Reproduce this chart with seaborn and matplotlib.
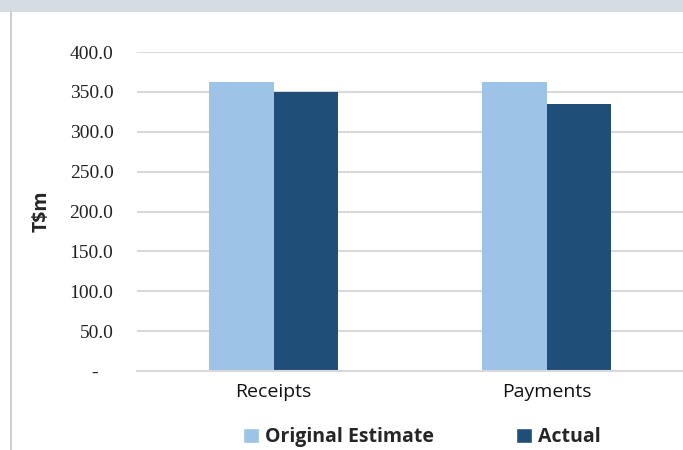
import matplotlib
matplotlib.use("Agg")
import matplotlib.pyplot as plt
import seaborn as sns
import pandas as pd
from matplotlib.patches import Rectangle
from matplotlib.lines import Line2D

categories = ["Receipts", "Payments"]
series_names = ["Original Estimate", "Actual"]
original_estimate = [363.0, 363.0]
actual = [350.4, 334.6]
ytick_values = [0, 50, 100, 150, 200, 250, 300, 350, 400]
ytick_labels = ["-   ", "50.0", "100.0", "150.0", "200.0", "250.0", "300.0", "350.0", "400.0"]
colors = ["#9DC3E6", "#1F4E79"]

df = pd.DataFrame({
    "Category": categories * 2,
    "Series": [series_names[0]] * 2 + [series_names[1]] * 2,
    "Value": original_estimate + actual,
})

sns.set_theme(style="white")
fig = plt.figure(figsize=(6.83, 4.5), dpi=100)
ax = fig.add_axes([0.2006, 0.1756, 0.7994, 0.7088])

sns.barplot(data=df, x="Category", y="Value", hue="Series", palette=colors,
            width=0.475, ax=ax, legend=False, saturation=1, errorbar=None,
            linewidth=0)

ax.set_ylim(0, 400)
ax.set_xlim(-0.5, 1.5)
ax.set_yticks(ytick_values)
ax.set_yticklabels(ytick_labels, family="Liberation Serif", fontsize=14, color="#222222")
ax.tick_params(axis="y", length=0, pad=17)
ax.tick_params(axis="x", length=0, pad=9, labelsize=14)
for lab in ax.get_xticklabels():
    lab.set_family("Open Sans")
    lab.set_color("#111111")
ax.yaxis.grid(True, color="#D9D9D9", linewidth=1.5)
ax.set_axisbelow(True)
for s in ["top", "right", "left"]:
    ax.spines[s].set_visible(False)
ax.spines["bottom"].set_color("#D9D9D9")
ax.spines["bottom"].set_linewidth(1.5)
ax.set_xlabel("")
ax.set_ylabel("T$m", fontsize=14, fontweight="bold", family="Open Sans", labelpad=13)

# top band and left border
fig.patches.append(Rectangle((0, 1 - 12 / 450), 1, 12 / 450, transform=fig.transFigure,
                             facecolor="#D6DCE4", edgecolor="none", zorder=0))
fig.lines.append(Line2D([10.5 / 683, 10.5 / 683], [0, 1 - 12 / 450], transform=fig.transFigure,
                        color="#D0D0D0", linewidth=1.5))

handles = [Rectangle((0, 0), 1, 1, facecolor=c) for c in colors]
leg = fig.legend(handles, series_names, loc="center", bbox_to_anchor=(0.618, 0.029),
                 ncol=2, frameon=False, handlelength=0.8, handleheight=0.8,
                 handletextpad=0.35, columnspacing=4.2,
                 prop={"family": "Open Sans", "weight": "bold", "size": 14})

fig.savefig("out.png", dpi=100)
